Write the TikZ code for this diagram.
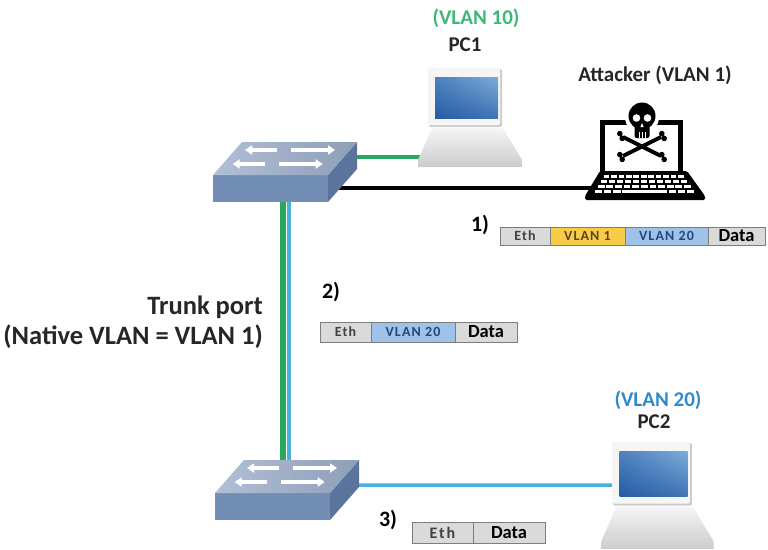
\documentclass[tikz,border=0pt]{standalone}
\usepackage{fontspec}
\setmainfont{Carlito}
\usetikzlibrary{positioning,backgrounds,arrows.meta,shadings}

\definecolor{vlgreen}{RGB}{40,168,92}
\definecolor{vlgreentxt}{RGB}{62,184,120}
\definecolor{vlblue}{RGB}{72,178,220}
\definecolor{vlbluetxt}{RGB}{48,138,200}
\definecolor{swtop}{RGB}{158,176,204}
\definecolor{swfront}{RGB}{114,142,180}
\definecolor{swside}{RGB}{90,116,156}
\definecolor{scrdark}{RGB}{38,92,165}
\definecolor{scrlight}{RGB}{125,172,218}
\definecolor{ethgray}{RGB}{218,218,218}
\definecolor{tagyellow}{RGB}{247,204,72}
\definecolor{tagblue}{RGB}{158,194,232}
\definecolor{tagyellowtxt}{RGB}{90,72,20}
\definecolor{tagbluetxt}{RGB}{40,70,125}
\definecolor{fldline}{RGB}{125,125,125}

\tikzset{
  lbl/.style={font=\bfseries\fontsize{21}{24}\selectfont, text=black!85, inner sep=0pt},
  num/.style={font=\bfseries\fontsize{22}{24}\selectfont, inner sep=0pt},
  fld/.style={draw=fldline, line width=1pt, fill=ethgray, inner sep=0pt, outer sep=0pt,
    font=\bfseries\fontsize{14}{15}\selectfont\addfontfeatures{LetterSpace=8}, text=black!75},
  datafld/.style={fld, font=\bfseries\fontsize{18.5}{19}\selectfont, text=black},
  tag1/.style={fld, fill=tagyellow, text=tagyellowtxt},
  tag20/.style={fld, fill=tagblue, text=tagbluetxt},
  swarrow/.style={draw=white, line width=3.5pt, -{Triangle[length=7pt,width=9pt]}},
  % workgroup switch, origin = top left corner of the front face
  switch/.pic={
    \fill[swfront] (0,0) rectangle (115,27);
    \fill[swside] (115,0) -- (144,-33) -- (144,-6) -- (115,27) -- cycle;
    \shade[left color=swtop!80!white, right color=swtop!90!black] (0,0) -- (29,-33) -- (144,-33) -- (115,0) -- cycle;
    \begin{scope}[xslant=0.88]
      \foreach \yy in {-25,-11} {
        \draw[swarrow] (42,\yy) -- (10,\yy);
        \draw[swarrow] (56,\yy) -- (100,\yy);
      }
    \end{scope}
    \coordinate (-up) at (71,-33);
    \coordinate (-down) at (73,27);
    \coordinate (-e1) at (139,-18);
    \coordinate (-e2) at (139,-8);
    \coordinate (-front) at (110,13);
  },
  % desktop pc, origin = top middle of the monitor
  pc/.pic={
    \shade[top color=gray!8, bottom color=gray!40] (-33,60) -- (38,60) -- (57,92) -- (57,99)
      -- (-47,99) -- (-47,92) -- cycle;
    \fill[gray!40, rounded corners=2pt] (-36,1) rectangle (37,59);
    \fill[gray!8, rounded corners=2pt] (-37,0) rectangle (35,57);
    \shade[upper left=scrdark!55!scrlight, upper right=scrlight, lower left=scrdark,
      lower right=scrdark!70!scrlight] (-30,9) rectangle (33,50);
    \coordinate (-left) at (-37,40);
    \coordinate (-foot) at (-45,89);
  },
  % laptop with skull, origin = top middle of the lid
  laptop/.pic={
    \draw[line width=5pt] (-39.5,52) -- (-39.5,2.5) -- (38.5,2.5) -- (38.5,52);
    \fill[rounded corners=1.5pt] (-42,51) -- (45,51) -- (63,76) -- (63,80) -- (-57,80) -- (-57,76) -- cycle;
    \foreach \r in {0,1,2} {
      \pgfmathsetmacro\ya{54.5+5*\r}
      \pgfmathsetmacro\xl{-42-(\ya-51)*0.6+5}
      \pgfmathsetmacro\xr{45+(\ya-51)*0.72-5}
      \pgfmathsetmacro\kw{(\xr-\xl)/11}
      \foreach \k in {0,...,10}
        \fill[white] ({\xl+\k*\kw+0.9},\ya) rectangle ({\xl+(\k+1)*\kw-0.9},{\ya+3});
    }
    \pgfmathsetmacro\ya{69.5}
    \pgfmathsetmacro\xl{-42-(\ya-51)*0.6+5}
    \pgfmathsetmacro\xr{45+(\ya-51)*0.72-5}
    \pgfmathsetmacro\kw{(\xr-\xl)/11}
    \foreach \k in {0,1,2,8,9,10}
      \fill[white] ({\xl+\k*\kw+0.9},\ya) rectangle ({\xl+(\k+1)*\kw-0.9},{\ya+3});
    \fill[white] ({\xl+3*\kw+0.9},\ya) rectangle ({\xl+8*\kw-0.9},{\ya+3});
    % skull and bones
    \fill[white] (0,-3) circle (17);
    \draw[line width=4pt] (-19,17) -- (19,36) (-19,36) -- (19,17);
    \foreach \ex/\ey in {-21/16,21/16,-21/37,21/37}
      \fill (\ex-1.2,\ey-2.4) circle (2.8) (\ex+1.2,\ey+2.4) circle (2.8);
    \fill (0,-4) circle (13.5);
    \fill[rounded corners=2pt] (-7.5,4) rectangle (7.5,18);
    \fill[white] (-5.5,-2) circle (3.8) (5.5,-2) circle (3.8);
    \fill[white] (0,3) -- (-1.6,7) -- (1.6,7) -- cycle;
    \draw[white, line width=1pt] (-3,12) -- (-3,18) (0,12) -- (0,18) (3,12) -- (3,18);
    \coordinate (-west) at (-50,68);
  }
}

\begin{document}
\begin{tikzpicture}[x=1pt,y=-1pt]
	\useasboundingbox (0,0) rectangle (768,549);

	% devices
	\pic (sw1) at (213,175) {switch};
	\pic (sw2) at (215,493) {switch};
	\pic (pc1) at (465,68) {pc};
	\pic[scale=1.08] (pc2) at (652,442) {pc};
	\pic (atk) at (642,120) {laptop};

	% links
	\begin{pgfonlayer}{background}
		\draw[vlgreen, line width=6pt] ([xshift=-3pt]sw1-down) -- ([xshift=-3pt]sw2-up);
		\draw[vlblue, line width=4pt] ([xshift=3pt]sw1-down) -- ([xshift=3pt]sw2-up);
		\draw[vlgreen, line width=3.5pt] (sw1-e1) -- (pc1-foot);
		\draw[black, line width=3.5pt] (sw1-front) -- (atk-west);
		\draw[vlblue, line width=3.5pt] (sw2-e2) -- (pc2-left);
	\end{pgfonlayer}

	% labels
	\node[lbl, text=vlgreentxt] (v10) at (476,18) {(VLAN 10)};
	\node[lbl] (pc1name) at (465,45) {PC1};
	\node[lbl] (atkname) at (655,75) {Attacker (VLAN 1)};
	\node[lbl, text=vlbluetxt] (v20) at (658,400) {(VLAN 20)};
	\node[lbl] (pc2name) at (654,422) {PC2};
	\node[lbl, font=\bfseries\fontsize{26.5}{30}\selectfont, align=right, anchor=east] (trunk)
		at (263,322) {Trunk port\\(Native VLAN = VLAN 1)};

	% frames
	\node[num] (n1) at (480,225) {1)};
	\node[fld, minimum width=50, minimum height=18, anchor=north west] (f1eth) at (500,227) {Eth};
	\node[tag1, minimum width=75, minimum height=18, right=0pt of f1eth] (f1v1) {VLAN 1};
	\node[tag20, minimum width=83, minimum height=18, right=0pt of f1v1] (f1v20) {VLAN 20};
	\node[datafld, minimum width=57, minimum height=18, right=0pt of f1v20] (f1data) {Data};

	\node[num] (n2) at (331,292) {2)};
	\node[fld, minimum width=51, minimum height=20, anchor=north west] (f2eth) at (320,322) {Eth};
	\node[tag20, minimum width=84, minimum height=20, right=0pt of f2eth] (f2v20) {VLAN 20};
	\node[datafld, minimum width=62, minimum height=20, right=0pt of f2v20] (f2data) {Data};

	\node[num] (n3) at (388,520) {3)};
	\node[fld, font=\bfseries\fontsize{16}{17}\selectfont\addfontfeatures{LetterSpace=12},
		minimum width=61, minimum height=21, anchor=north west] (f3eth) at (412,522) {Eth};
	\node[datafld, minimum width=72, minimum height=21, right=0pt of f3eth] (f3data) {Data};
\end{tikzpicture}
\end{document}
